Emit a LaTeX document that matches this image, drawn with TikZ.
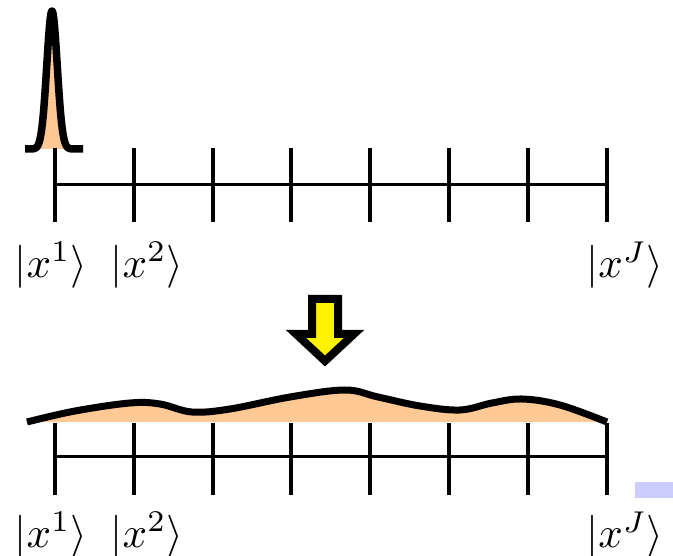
\documentclass[tikz,border=0pt]{standalone}
\usepackage{graphicx}
\newcommand{\bigket}[1]{\scalebox{4.3}{$|x^{#1}\rangle$}}
\begin{document}
\begin{tikzpicture}[x=1pt,y=-1pt,
  axisline/.style={line width=3pt},
  ticmark/.style={line width=3.4pt},
  wave/.style={line width=7pt, line join=round},
  lbl/.style={inner sep=0pt},
]
\definecolor{peach}{RGB}{255,201,150}
\definecolor{lav}{RGB}{204,204,255}
\useasboundingbox (0,0) rectangle (673,556);

% top peak
\fill[peach] plot[domain=27:80, samples=120] (\x,{149-138*exp(-((\x-52)/7.4)^2)}) -- cycle;
\draw[line width=7.5pt, line join=round] plot[domain=25:83, samples=160] (\x,{149-138*exp(-((\x-52)/7.4)^2)});

% top axis
\draw[axisline] (55,185) -- (607,185);
\foreach \t in {55,134,213,291,370,449,528,607}
  \draw[ticmark] (\t,148) -- (\t,222);

\node[lbl] (t1) at (51,265) {\bigket{1}};
\node[lbl] (t2) at (147,265) {\bigket{2}};
\node[lbl] (tJ) at (625,265) {\bigket{J}};

% arrow
\filldraw[fill=yellow, line width=8pt, miter limit=10]
  (312,299) -- (338,299) -- (338,334) -- (354,334) -- (325,361) -- (296,334) -- (312,334) -- cycle;

% bottom wave
\fill[peach] plot[smooth, tension=0.6] coordinates {(27,422) (75,411) (130,403) (160,404) (192,412) (230,409) (290,397) (345,390) (378,397) (420,406) (460,410) (492,403) (522,399) (560,405) (607,422)} -- cycle;
\draw[wave] plot[smooth, tension=0.6] coordinates {(27,422) (75,411) (130,403) (160,404) (192,412) (230,409) (290,397) (345,390) (378,397) (420,406) (460,410) (492,403) (522,399) (560,405) (607,422)};

% bottom axis
\draw[axisline] (55,457) -- (607,457);
\foreach \t in {55,134,213,291,370,449,528,607}
  \draw[ticmark] (\t,423) -- (\t,495);

\node[lbl] (b1) at (51,535) {\bigket{1}};
\node[lbl] (b2) at (147,535) {\bigket{2}};
\node[lbl] (bJ) at (625,535) {\bigket{J}};

\fill[lav] (635,482) rectangle (673,498);
\end{tikzpicture}
\end{document}
